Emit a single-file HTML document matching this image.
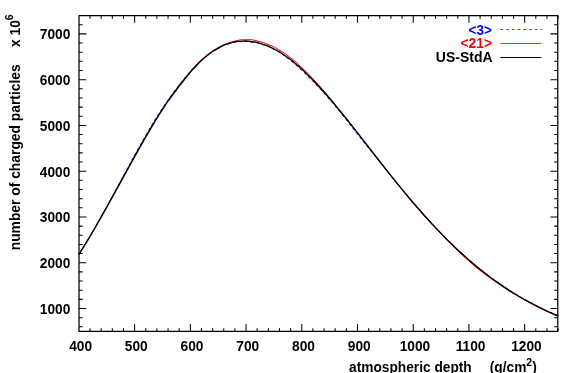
<!DOCTYPE html>
<html><head><meta charset="utf-8"><style>
html,body{margin:0;padding:0;background:#fff;}
svg{display:block;will-change:transform}
text{font-family:"Liberation Sans",sans-serif;font-weight:bold;font-size:15px;fill:#000}
</style></head><body>
<svg width="581" height="373" viewBox="0 0 581 373">
<rect width="581" height="373" fill="#fff"/>
<path d="M78.73,254.60 L84.29,245.64 L95.40,226.84 L106.52,207.12 L117.64,186.87 L128.76,166.50 L139.88,146.45 L151.01,127.14 L162.14,109.07 L173.28,93.03 L184.43,78.66 L195.58,65.44 L206.76,55.05 L217.96,47.46 L229.19,42.60 L240.38,39.82 L251.85,39.68 L263.27,42.54 L274.71,47.21 L285.97,54.12 L297.08,62.99 L308.05,73.57 L319.07,85.35 L330.10,98.11 L341.03,111.70 L352.00,125.77 L363.04,140.07 L374.12,154.42 L385.20,168.68 L396.28,182.69 L407.37,196.31 L418.49,209.41 L429.64,221.90 L440.79,233.75 L451.83,245.02 L462.83,255.66 L473.92,265.47 L485.15,274.41 L496.51,282.43 L507.72,289.94 L518.93,296.78 L530.12,303.02 L541.28,308.70 L552.44,313.83 L558.02,316.19" fill="none" stroke="#ff0000" stroke-width="1"/>
<path d="M78.90,254.70 L89.94,236.43 L100.98,217.08 L111.99,196.99 L122.95,176.55 L133.93,156.19 L145.07,136.46 L156.23,117.70 L167.42,100.55 L178.65,85.60 L189.90,71.68 L201.25,59.95 L212.56,51.23 L223.82,45.25 L234.99,42.02 L246.05,41.45 L257.09,42.88 L268.20,46.42 L279.26,52.18 L290.17,60.07 L301.10,69.69 L312.20,80.62 L323.50,92.57 L334.72,105.53 L345.80,119.26 L356.87,133.40 L368.20,147.54 L379.54,161.67 L390.81,175.67 L402.02,189.40 L413.22,202.68 L424.42,215.41 L435.63,227.52 L446.76,239.02 L457.85,249.87 L468.94,260.00 L480.13,269.29 L491.32,277.84 L502.50,285.71 L513.65,292.92 L524.81,299.48 L535.94,305.46 L547.07,310.86 L558.21,315.73" fill="none" stroke="#0000ff" stroke-width="1" stroke-dasharray="2.8 2.9"/>
<path d="M78.90,254.70 L90.04,236.49 L101.19,217.20 L112.33,197.18 L123.48,176.83 L134.62,156.58 L145.76,136.86 L156.91,118.12 L168.05,100.98 L179.20,86.01 L190.34,72.07 L201.48,60.22 L212.63,51.32 L223.77,45.14 L234.92,41.67 L246.06,40.85 L257.20,42.41 L268.35,46.09 L279.49,51.80 L290.64,59.48 L301.78,68.96 L312.92,79.92 L324.07,92.07 L335.21,105.12 L346.36,118.81 L357.50,132.91 L368.64,147.20 L379.79,161.47 L390.93,175.57 L402.08,189.35 L413.22,202.68 L424.36,215.46 L435.51,227.63 L446.65,239.13 L457.80,249.93 L468.94,260.00 L480.08,269.35 L491.23,277.97 L502.37,285.90 L513.52,293.14 L524.66,299.74 L535.80,305.72 L546.95,311.13 L558.09,316.01" fill="none" stroke="#000" stroke-width="1.4"/>
<rect x="79.0" y="15.55" width="478.75" height="315.8" fill="none" stroke="#000" stroke-width="1.25" stroke-linejoin="round"/>
<path d="M90.04,331.35v-3.2M90.04,15.55v3.2M101.19,331.35v-3.2M101.19,15.55v3.2M112.33,331.35v-3.2M112.33,15.55v3.2M123.48,331.35v-3.2M123.48,15.55v3.2M134.62,331.35v-7.3M134.62,15.55v7.3M145.76,331.35v-3.2M145.76,15.55v3.2M156.91,331.35v-3.2M156.91,15.55v3.2M168.05,331.35v-3.2M168.05,15.55v3.2M179.20,331.35v-3.2M179.20,15.55v3.2M190.34,331.35v-7.3M190.34,15.55v7.3M201.48,331.35v-3.2M201.48,15.55v3.2M212.63,331.35v-3.2M212.63,15.55v3.2M223.77,331.35v-3.2M223.77,15.55v3.2M234.92,331.35v-3.2M234.92,15.55v3.2M246.06,331.35v-7.3M246.06,15.55v7.3M257.20,331.35v-3.2M257.20,15.55v3.2M268.35,331.35v-3.2M268.35,15.55v3.2M279.49,331.35v-3.2M279.49,15.55v3.2M290.64,331.35v-3.2M290.64,15.55v3.2M301.78,331.35v-7.3M301.78,15.55v7.3M312.92,331.35v-3.2M312.92,15.55v3.2M324.07,331.35v-3.2M324.07,15.55v3.2M335.21,331.35v-3.2M335.21,15.55v3.2M346.36,331.35v-3.2M346.36,15.55v3.2M357.50,331.35v-7.3M357.50,15.55v7.3M368.64,331.35v-3.2M368.64,15.55v3.2M379.79,331.35v-3.2M379.79,15.55v3.2M390.93,331.35v-3.2M390.93,15.55v3.2M402.08,331.35v-3.2M402.08,15.55v3.2M413.22,331.35v-7.3M413.22,15.55v7.3M424.36,331.35v-3.2M424.36,15.55v3.2M435.51,331.35v-3.2M435.51,15.55v3.2M446.65,331.35v-3.2M446.65,15.55v3.2M457.80,331.35v-3.2M457.80,15.55v3.2M468.94,331.35v-7.3M468.94,15.55v7.3M480.08,331.35v-3.2M480.08,15.55v3.2M491.23,331.35v-3.2M491.23,15.55v3.2M502.37,331.35v-3.2M502.37,15.55v3.2M513.52,331.35v-3.2M513.52,15.55v3.2M524.66,331.35v-7.3M524.66,15.55v7.3M535.80,331.35v-3.2M535.80,15.55v3.2M546.95,331.35v-3.2M546.95,15.55v3.2M558.09,331.35v-3.2M558.09,15.55v3.2M79.0,326.81h3.6M557.75,326.81h-3.6M79.0,317.65h3.6M557.75,317.65h-3.6M79.0,308.50h7.3M557.75,308.50h-7.3M79.0,299.35h3.6M557.75,299.35h-3.6M79.0,290.19h3.6M557.75,290.19h-3.6M79.0,281.04h3.6M557.75,281.04h-3.6M79.0,271.88h3.6M557.75,271.88h-3.6M79.0,262.73h7.3M557.75,262.73h-7.3M79.0,253.58h3.6M557.75,253.58h-3.6M79.0,244.42h3.6M557.75,244.42h-3.6M79.0,235.27h3.6M557.75,235.27h-3.6M79.0,226.11h3.6M557.75,226.11h-3.6M79.0,216.96h7.3M557.75,216.96h-7.3M79.0,207.81h3.6M557.75,207.81h-3.6M79.0,198.65h3.6M557.75,198.65h-3.6M79.0,189.50h3.6M557.75,189.50h-3.6M79.0,180.34h3.6M557.75,180.34h-3.6M79.0,171.19h7.3M557.75,171.19h-7.3M79.0,162.04h3.6M557.75,162.04h-3.6M79.0,152.88h3.6M557.75,152.88h-3.6M79.0,143.73h3.6M557.75,143.73h-3.6M79.0,134.57h3.6M557.75,134.57h-3.6M79.0,125.42h7.3M557.75,125.42h-7.3M79.0,116.27h3.6M557.75,116.27h-3.6M79.0,107.11h3.6M557.75,107.11h-3.6M79.0,97.96h3.6M557.75,97.96h-3.6M79.0,88.80h3.6M557.75,88.80h-3.6M79.0,79.65h7.3M557.75,79.65h-7.3M79.0,70.50h3.6M557.75,70.50h-3.6M79.0,61.34h3.6M557.75,61.34h-3.6M79.0,52.19h3.6M557.75,52.19h-3.6M79.0,43.03h3.6M557.75,43.03h-3.6M79.0,33.88h7.3M557.75,33.88h-7.3M79.0,24.73h3.6M557.75,24.73h-3.6M79.0,15.57h3.6M557.75,15.57h-3.6" fill="none" stroke="#000" stroke-width="1.05"/>
<text transform="translate(80.6,350.8) scale(0.915,1)" text-anchor="middle" >400</text><text transform="translate(136.3,350.8) scale(0.915,1)" text-anchor="middle" >500</text><text transform="translate(192.0,350.8) scale(0.915,1)" text-anchor="middle" >600</text><text transform="translate(247.8,350.8) scale(0.915,1)" text-anchor="middle" >700</text><text transform="translate(303.5,350.8) scale(0.915,1)" text-anchor="middle" >800</text><text transform="translate(359.2,350.8) scale(0.915,1)" text-anchor="middle" >900</text><text transform="translate(414.9,350.8) scale(0.915,1)" text-anchor="middle" >1000</text><text transform="translate(470.6,350.8) scale(0.915,1)" text-anchor="middle" >1100</text><text transform="translate(526.4,350.8) scale(0.915,1)" text-anchor="middle" >1200</text>
<text transform="translate(70.3,313.8) scale(0.915,1)" text-anchor="end" >1000</text><text transform="translate(70.3,268.0) scale(0.915,1)" text-anchor="end" >2000</text><text transform="translate(70.3,222.3) scale(0.915,1)" text-anchor="end" >3000</text><text transform="translate(70.3,176.5) scale(0.915,1)" text-anchor="end" >4000</text><text transform="translate(70.3,130.7) scale(0.915,1)" text-anchor="end" >5000</text><text transform="translate(70.3,85.0) scale(0.915,1)" text-anchor="end" >6000</text><text transform="translate(70.3,39.2) scale(0.915,1)" text-anchor="end" >7000</text>
<text transform="translate(471.7,371.8) scale(0.915,1)" text-anchor="end" >atmospheric depth</text>
<text transform="translate(489.8,371.8) scale(0.915,1)" text-anchor="start" >(g/cm<tspan dy="-6.3" font-size="11.5px">2</tspan><tspan dy="6.3">)</tspan></text>
<text transform="translate(20.1,250.3) rotate(-90) scale(0.923,1)" text-anchor="start" >number of charged particles</text>
<text transform="translate(20.1,46.9) rotate(-90) scale(0.915,1)" text-anchor="start" >x 10<tspan dy="-6.8" font-size="11.5px">6</tspan></text>
<text transform="translate(492.0,34.6) scale(0.905,1)" text-anchor="end" style="fill:#0000ff">&lt;3&gt;</text>
<text transform="translate(492.0,48.2) scale(0.922,1)" text-anchor="end" style="fill:#ff0000">&lt;21&gt;</text>
<text transform="translate(492.6,62.2) scale(0.934,1)" text-anchor="end" >US-StdA</text>
<path d="M500.4,29.5H542" stroke="#0000ff" stroke-width="0.75" stroke-dasharray="2.7 3.05"/>
<path d="M500.4,43.5H541.2" stroke="#ff0000" stroke-width="0.85"/>
<path d="M500.4,57.5H541.2" stroke="#000" stroke-width="1.2"/>
</svg>
</body></html>
